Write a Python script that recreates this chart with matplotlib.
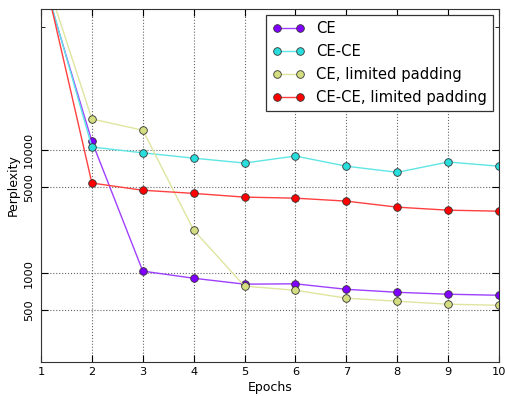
import matplotlib
matplotlib.use("Agg")
import matplotlib.pyplot as plt
from matplotlib.ticker import FixedLocator, NullFormatter
from matplotlib.colors import to_rgb

epochs = [1, 2, 3, 4, 5, 6, 7, 8, 9, 10]
ce = [280000, 11800, 1040, 910, 815, 820, 740, 700, 675, 662]
ce_ce = [300000, 10600, 9500, 8600, 7850, 8950, 7400, 6600, 8000, 7400]
ce_lim = [330000, 17900, 14500, 2240, 785, 727, 627, 592, 560, 549]
ce_ce_lim = [340000, 5400, 4720, 4450, 4150, 4070, 3850, 3440, 3250, 3190]

labels = ["CE", "CE-CE", "CE, limited padding", "CE-CE, limited padding"]
series = [ce, ce_ce, ce_lim, ce_ce_lim]
colors = [plt.cm.rainbow(i / 3) for i in range(4)]

def lighten(c, amt=0.25):
    r, g, b = to_rgb(c)
    return (r + (1 - r) * amt, g + (1 - g) * amt, b + (1 - b) * amt)

fig = plt.figure(figsize=(5.06, 3.96), dpi=100)
ax = fig.add_axes([41 / 506, 1 - 362 / 396, 458 / 506, 353 / 396])

for vals, lab, c in zip(series, labels, colors):
    ax.plot(epochs, vals, color=lighten(c), marker="o", markersize=5.5,
            markerfacecolor=c, markeredgecolor="#333333", markeredgewidth=0.6,
            linewidth=1.0, label=lab)

ax.set_yscale("log")
ax.set_ylim(190, 140000)
ax.set_xlim(1, 10)
ax.yaxis.set_major_locator(FixedLocator([500, 1000, 5000, 10000]))
ax.yaxis.set_major_formatter(plt.FuncFormatter(lambda v, _: f"{int(v)}"))
ax.yaxis.set_minor_locator(FixedLocator([100000]))
ax.yaxis.set_minor_formatter(NullFormatter())
ax.set_xticks(epochs)

for lab in ax.get_yticklabels():
    lab.set_rotation(90)
    lab.set_va("center")

ax.tick_params(which="both", direction="in", top=True, right=True, labelsize=8.2)
ax.tick_params(which="major", length=5)
ax.tick_params(which="minor", length=3)
ax.tick_params(axis="y", pad=5)
ax.grid(True, which="major", linestyle=":", color="#666666", linewidth=0.8)

for s in ax.spines.values():
    s.set_color("#333333")

ax.set_xlabel("Epochs", fontsize=9, labelpad=3)
ax.set_ylabel("Perplexity", fontsize=9, labelpad=3)

leg = ax.legend(loc="upper right", fontsize=10.6, numpoints=2, fancybox=False,
                framealpha=1, edgecolor="#333333", handlelength=2.2,
                borderaxespad=0.4, labelspacing=0.55)
leg.get_frame().set_linewidth(0.9)

fig.savefig("out.png", dpi=100, facecolor="white")
